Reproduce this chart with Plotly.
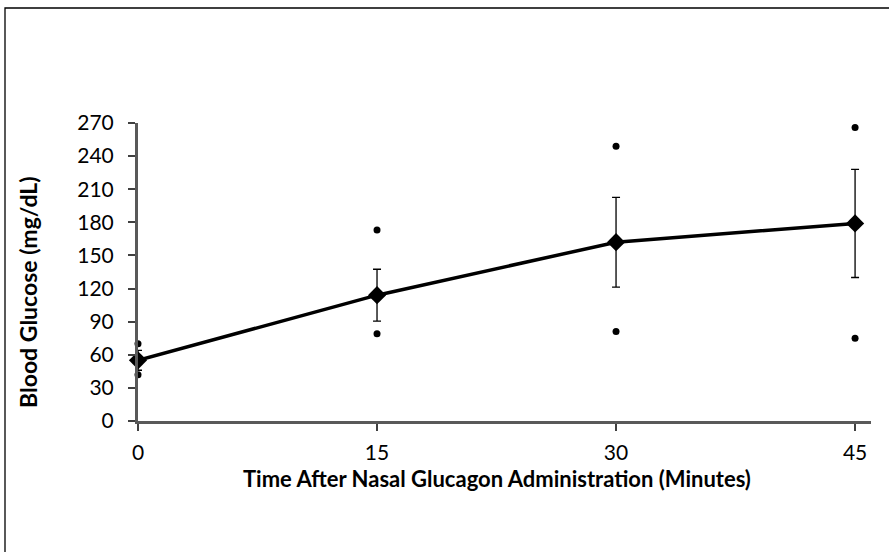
import plotly.graph_objects as go

time_min = [0, 15, 30, 45]
mean_glucose = [55, 114, 162, 179]
sem_glucose = [9, 23.5, 40.7, 49]
max_glucose = [70, 173, 249, 266]
min_glucose = [42, 79, 81, 75]
y_ticks = [0, 30, 60, 90, 120, 150, 180, 210, 240, 270]
x_ticks = [0, 15, 30, 45]
x_title = "Time After Nasal Glucagon Administration (Minutes)"
y_title = "Blood Glucose (mg/dL)"

W, H = 889, 552
L, R, T, B = 138, 18, 123, 131
pw, ph = W - L - R, H - T - B


def px(x):
    return (x - L) / pw


def py(y):
    return (T + ph - y) / ph


fig = go.Figure()
fig.add_trace(go.Scatter(
    x=time_min + time_min, y=max_glucose + min_glucose, mode="markers",
    marker=dict(symbol="circle", size=7, color="black"), cliponaxis=False,
    showlegend=False, hoverinfo="x+y"))
fig.add_trace(go.Scatter(
    x=time_min, y=mean_glucose, mode="lines+markers",
    line=dict(color="black", width=3.5),
    marker=dict(symbol="diamond", size=14, color="black"),
    error_y=dict(type="data", array=sem_glucose, visible=True, color="black", thickness=1.3, width=4),
    cliponaxis=False, showlegend=False))

font = "Lato, 'Open Sans', sans-serif"
axis_common = dict(ticks="outside", ticklen=7, tickwidth=1.5, tickcolor="#404040",
                   showline=True, linecolor="#595959", linewidth=3,
                   showgrid=False, zeroline=False, tickfont=dict(size=21, color="black"))
fig.update_layout(
    width=W, height=H,
    margin=dict(l=L, r=R, t=T, b=B, pad=0),
    paper_bgcolor="white", plot_bgcolor="white",
    font=dict(family=font, color="black", size=21),
    xaxis=dict(range=[0, 46], tickvals=x_ticks, ticklabelstandoff=4, **axis_common),
    yaxis=dict(range=[0, 270], tickvals=y_ticks, ticklabelstandoff=10, **axis_common),
    annotations=[
        dict(text="<b>" + x_title + "</b>", xref="paper", yref="paper",
             x=px(497), y=py(478), xanchor="center", yanchor="middle",
             showarrow=False, font=dict(size=22, color="black")),
        dict(text="<b>" + y_title + "</b>", xref="paper", yref="paper",
             x=px(28), y=py(292), xanchor="center", yanchor="middle", textangle=-90,
             showarrow=False, font=dict(size=23, color="black")),
    ],
    shapes=[dict(type="rect", xref="paper", yref="paper",
                 x0=px(5), x1=px(W + 10), y0=py(H + 10), y1=py(8),
                 line=dict(color="black", width=1.3), fillcolor="rgba(0,0,0,0)", layer="below")],
)
fig.write_html("out.html")
